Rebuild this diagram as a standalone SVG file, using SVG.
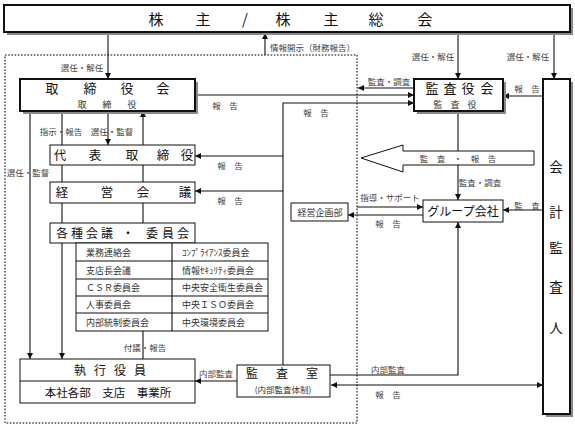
<svg xmlns="http://www.w3.org/2000/svg" width="575" height="428" viewBox="0 0 575 428">
<style>
text{font-family:"Noto Sans CJK JP","Noto Sans",sans-serif;fill:#111}
.lbl{font-size:8.5px;fill:#444;text-anchor:middle}
.c{text-anchor:middle}
.box{fill:#fff;stroke:#111;stroke-width:1}
.bold{fill:#fff;stroke:#111;stroke-width:2}
.sh{fill:#8a8a8a}
.ln{fill:none;stroke:#111;stroke-width:1.1}
.arr{marker-end:url(#ah)}
.tb{font-size:9px;fill:#333}
</style>
<defs>
<marker id="ah" viewBox="0 0 10 10" refX="10" refY="5" markerWidth="6" markerHeight="6" markerUnits="userSpaceOnUse" orient="auto-start-reverse">
<path d="M0,0 L10,5 L0,10 z" fill="#111"/>
</marker>
</defs>
<rect width="575" height="428" fill="#fff"/>

<g id="dotted-area">
<rect x="5" y="55" width="352" height="368" fill="none" stroke="#555" stroke-width="1.6" stroke-dasharray="1.6 1.6"/>
</g>

<g id="connectors">
<path class="ln arr" d="M108 32 V79"/>
<path class="ln arr" d="M265 55 V33"/>
<path class="ln arr" d="M458 32 V79"/>
<path class="ln arr" d="M554 32 V79"/>
<path class="ln arr" d="M195 95 H414"/>
<path class="ln arr" d="M283 365 V103 H414"/>
<path class="ln arr" d="M283 156 H195"/>
<path class="ln arr" d="M283 191 H195"/>
<path class="ln arr" d="M414 88 H358"/>
<path class="ln arr" d="M543 96 H503"/>
<path class="ln arr" d="M458 111 V200"/>
<path class="ln arr" d="M357 207 H423"/>
<path class="ln arr" d="M423 215 H348"/>
<path class="ln arr" d="M543 210 H503"/>
<path class="ln arr" d="M330 375 H458 V222"/>
<path class="ln arr" d="M331 385 H543" style="marker-start:url(#ah)"/>
<path class="ln arr" d="M237 381 H195"/>
<path class="ln arr" d="M30 111 V359"/>
<path class="ln arr" d="M62 111 V359"/>
<path class="ln arr" d="M108 111 V145"/>
<path class="ln arr" d="M143 145 V111"/>
<path class="ln" d="M143 165 V182 M143 203 V223 M143 331 V359"/>
</g>

<g id="kabunushi">
<rect class="sh" x="7" y="8" width="566" height="27"/>
<rect class="bold" x="4" y="5" width="566" height="27"/>
<text x="156 203 245 283 331 376 425" y="25" class="c" font-size="15">株主/株主総会</text>
</g>

<g id="torishimariyakukai">
<rect class="sh" x="23" y="82" width="175" height="32"/>
<rect class="bold" x="20" y="79" width="175" height="32"/>
<text x="52 90 127 163" y="93" class="c" font-size="13">取締役会</text>
<text x="82 107 132" y="108" class="c" font-size="9" style="fill:#333">取締役</text>
</g>

<g id="kansayakukai">
<rect class="sh" x="417" y="82" width="89" height="32"/>
<rect class="bold" x="414" y="79" width="89" height="32"/>
<text x="432 450 468 487" y="93" class="c" font-size="13">監査役会</text>
<text x="438 455 472" y="108" class="c" font-size="9" style="fill:#333">監査役</text>
</g>

<g id="kaikei">
<rect class="sh" x="546" y="82" width="27" height="335"/>
<rect class="bold" x="543" y="79" width="27" height="335"/>
<text x="556" y="172" class="c" font-size="13.5">会</text>
<text x="556" y="217" class="c" font-size="13.5">計</text>
<text x="556" y="253" class="c" font-size="13.5">監</text>
<text x="556" y="292" class="c" font-size="13.5">査</text>
<text x="556" y="333" class="c" font-size="13.5">人</text>
</g>

<g id="daihyo">
<rect class="box" x="50" y="145" width="145" height="20"/>
<text x="60 95 132 163 187" y="160" class="c" font-size="12.5">代表取締役</text>
</g>

<g id="keiei">
<rect class="box" x="50" y="182" width="145" height="21"/>
<text x="62 107 143 185" y="197" class="c" font-size="12.5">経営会議</text>
</g>

<g id="kakushu">
<rect class="box" x="50" y="223" width="145" height="20"/>
<text x="62 77 92 107 128 152 168 183" y="238" class="c" font-size="12">各種会議・委員会</text>
</g>

<g id="committees">
<rect class="box" x="76" y="243" width="192" height="88"/>
<path class="ln" d="M172 243 V331 M76 261 H268 M76 279 H268 M76 296 H268 M76 313 H268" stroke-width="1"/>
<text class="tb" x="86" y="256">業務連絡会</text>
<text class="tb" x="86" y="274">支店長会議</text>
<text class="tb" x="86" y="291">ＣＳＲ委員会</text>
<text class="tb" x="86" y="308">人事委員会</text>
<text class="tb" x="86" y="326">内部統制委員会</text>
<text class="tb" x="182" y="256">ｺﾝﾌﾟﾗｲｱﾝｽ委員会</text>
<text class="tb" x="182" y="274">情報ｾｷｭﾘﾃｨ委員会</text>
<text class="tb" x="182" y="291">中央安全衛生委員会</text>
<text class="tb" x="182" y="308">中央ＩＳＯ委員会</text>
<text class="tb" x="182" y="326">中央環境委員会</text>
</g>

<g id="shikko">
<rect class="box" x="20" y="359" width="175" height="44"/>
<path class="ln" d="M20 381 H195" stroke-width="1"/>
<text x="80 100 120 140" y="375" class="c" font-size="12">執行役員</text>
<text x="108" y="397" class="c" font-size="11.5">本社各部　支店　事業所</text>
</g>

<g id="kansashitsu">
<rect class="box" x="237" y="365" width="93" height="32"/>
<text x="252 282 312" y="378" class="c" font-size="12">監査室</text>
<text x="283" y="393" class="c" font-size="8.5" style="fill:#333">(内部監査体制)</text>
</g>

<g id="group">
<rect class="box" x="423" y="200" width="80" height="22"/>
<text x="463" y="216" class="c" font-size="12">グループ会社</text>
</g>

<g id="keieikikaku">
<rect class="box" x="291" y="203" width="57" height="18"/>
<text x="320" y="215.5" class="c" font-size="9" style="fill:#333">経営企画部</text>
</g>

<g id="big-arrow">
<polygon points="361,158 403,145 403,151 534,151 534,165 403,165 403,172" fill="#fff" stroke="#111" stroke-width="1"/>
<text class="lbl" x="458" y="162">監　査　・　報　告</text>
</g>

<g id="labels">
<text class="lbl" x="82" y="71">選任・解任</text>
<text class="lbl" x="270" y="51" style="text-anchor:start">情報開示（財務報告）</text>
<text class="lbl" x="433" y="60">選任・解任</text>
<text class="lbl" x="528" y="60">選任・解任</text>
<text class="lbl" x="389" y="85">監査・調査</text>
<text class="lbl" x="527" y="92">報　告</text>
<text class="lbl" x="225" y="109">報　告</text>
<text class="lbl" x="316" y="116">報　告</text>
<text class="lbl" x="61" y="135">指示・報告</text>
<text class="lbl" x="112" y="135">選任・監督</text>
<text class="lbl" x="28" y="176">選任・監督</text>
<text class="lbl" x="230" y="169">報　告</text>
<text class="lbl" x="230" y="204">報　告</text>
<text class="lbl" x="480" y="186">監査・調査</text>
<text class="lbl" x="390" y="201">指導・サポート</text>
<text class="lbl" x="388" y="227">報　告</text>
<text class="lbl" x="527" y="209">監　査</text>
<text class="lbl" x="145" y="351">付議・報告</text>
<text class="lbl" x="216" y="377">内部監査</text>
<text class="lbl" x="388" y="373">内部監査</text>
<text class="lbl" x="388" y="398">報　告</text>
</g>
</svg>
